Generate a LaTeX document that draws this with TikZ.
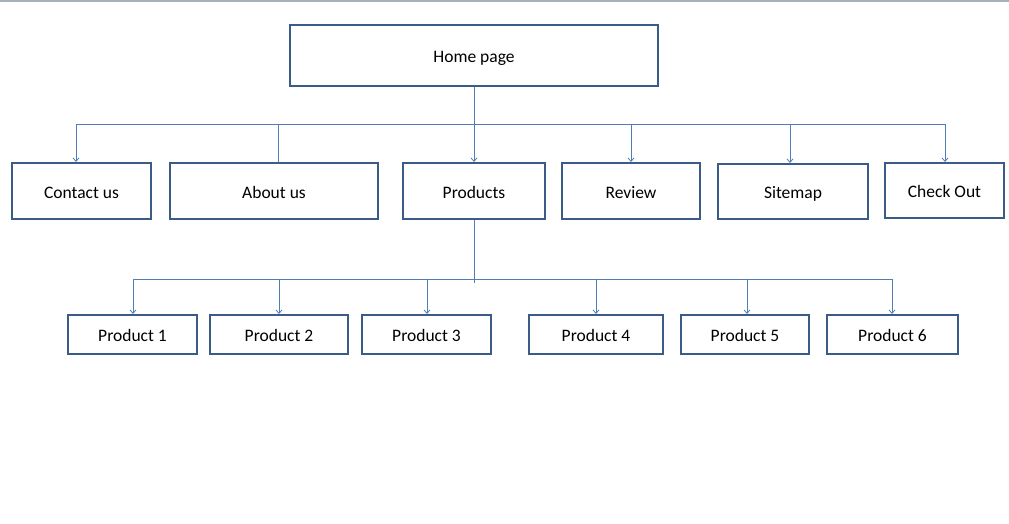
\documentclass[tikz,border=0pt]{standalone}
\usepackage{fontspec}
\setmainfont{Carlito}
\usetikzlibrary{arrows.meta}
\definecolor{boxblue}{HTML}{3B5C86}
\definecolor{lineblue}{HTML}{4F7DB5}
\definecolor{topgray}{HTML}{A9B0B7}
\begin{document}
\begin{tikzpicture}[x=1pt,y=-1pt,
  box/.style={draw=boxblue,line width=2pt,fill=white,inner sep=0pt,text height=14pt,text depth=0pt,font=\fontsize{17.5}{19}\selectfont},
  conn/.style={draw=lineblue,line width=1pt},
  arr/.style={conn,-{Straight Barb[length=3.5pt,width=6pt,line width=0.8pt]}}]
\useasboundingbox (0,0) rectangle (1009,523);
\fill[white] (0,0) rectangle (1009,523);
\coordinate (tl) at (0,1);
\coordinate (tr) at (1009,1);
\draw[topgray,line width=1.5pt] (tl) -- (tr);
% level 0
\node[box,minimum width=368pt,minimum height=61pt] (home) at (474,55.5) {Home page};
% level 1
\node[box,minimum width=139pt,minimum height=56pt] (contact) at (81.5,191) {Contact us};
\node[box,minimum width=208pt,minimum height=56pt] (about) at (274,191) {About us};
\node[box,minimum width=142pt,minimum height=56pt] (products) at (474,191) {Products};
\node[box,minimum width=138pt,minimum height=56pt] (review) at (631,191) {Review};
\node[box,minimum width=150pt,minimum height=55pt] (sitemap) at (793,191.5) {Sitemap};
\node[box,minimum width=119pt,minimum height=55pt] (checkout) at (944.5,190.5) {Check Out};
% level 2
\node[box,minimum width=129pt,minimum height=39pt] (p1) at (132.5,334.5) {Product 1};
\node[box,minimum width=138pt,minimum height=39pt] (p2) at (279,334.5) {Product 2};
\node[box,minimum width=129pt,minimum height=39pt] (p3) at (426.5,334.5) {Product 3};
\node[box,minimum width=134pt,minimum height=39pt] (p4) at (596,334.5) {Product 4};
\node[box,minimum width=128pt,minimum height=39pt] (p5) at (745,334.5) {Product 5};
\node[box,minimum width=131pt,minimum height=39pt] (p6) at (892.5,334.5) {Product 6};
% bus 1
\coordinate (b1a) at (76,124);
\coordinate (b1b) at (278,124);
\coordinate (b1c) at (474,124);
\coordinate (b1d) at (631,124);
\coordinate (b1e) at (790,124);
\coordinate (b1f) at (945,124);
\draw[conn] (b1a) -- (b1f);
\draw[conn] (home.south) -- (b1c);
\draw[arr] (b1a) -- (b1a |- contact.north);
\draw[conn] (b1b) -- (b1b |- about.north);
\draw[arr] (b1c) -- (products.north);
\draw[arr] (b1d) -- (b1d |- review.north);
\draw[arr] (b1e) -- (b1e |- sitemap.north);
\draw[arr] (b1f) -- (b1f |- checkout.north);
% bus 2
\coordinate (b2a) at (133,279);
\coordinate (b2b) at (279,279);
\coordinate (b2c) at (427,279);
\coordinate (b2d) at (596,279);
\coordinate (b2e) at (747,279);
\coordinate (b2f) at (892,279);
\coordinate (b2end) at (474,283);
\draw[conn] (b2a) -- (b2f);
\draw[conn] (products.south) -- (b2end);
\draw[arr] (b2a) -- (b2a |- p1.north);
\draw[arr] (b2b) -- (b2b |- p2.north);
\draw[arr] (b2c) -- (b2c |- p3.north);
\draw[arr] (b2d) -- (b2d |- p4.north);
\draw[arr] (b2e) -- (b2e |- p5.north);
\draw[arr] (b2f) -- (b2f |- p6.north);
\end{tikzpicture}
\end{document}
